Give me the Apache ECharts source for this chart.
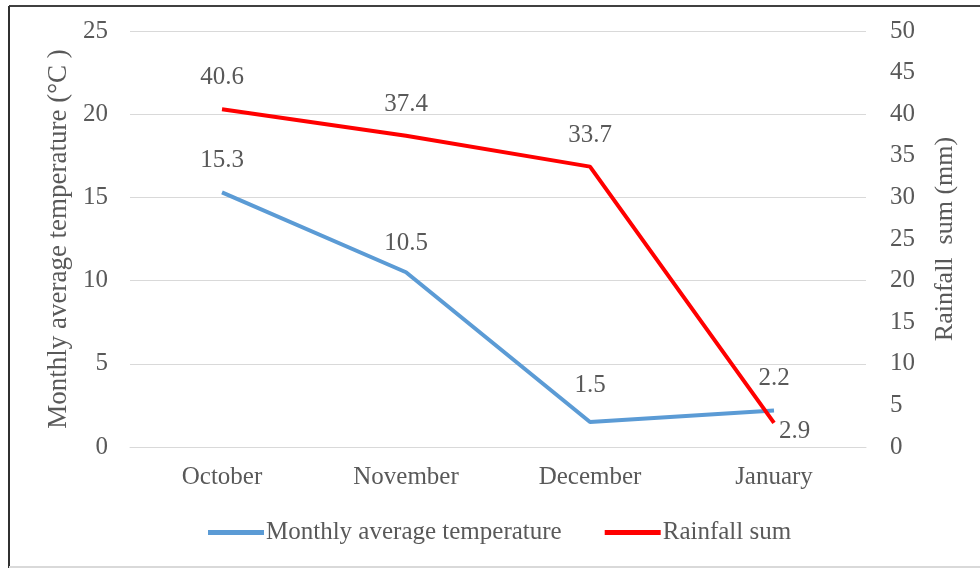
<!DOCTYPE html>
<html>
<head>
<meta charset="utf-8">
<script src="https://cdn.jsdelivr.net/npm/echarts@6/dist/echarts.min.js"></script>
<style>html,body{margin:0;padding:0;background:#fff;}#c{width:980px;height:569px;}</style>
</head>
<body>
<div id="c"></div>
<script>
var categories = ['October', 'November', 'December', 'January'];
var temperature = [15.3, 10.5, 1.5, 2.2];
var rainfall = [40.6, 37.4, 33.7, 2.9];
var leftTicks = [0, 5, 10, 15, 20, 25];
var rightTicks = [0, 5, 10, 15, 20, 25, 30, 35, 40, 45, 50];

var FONT = 'Liberation Serif';
var TXT = '#595959';
var FS = 25;

var chart = echarts.init(document.getElementById('c'));

function lbl(extra) {
  return Object.assign({show: true, position: 'top', distance: 19, color: TXT, fontFamily: FONT, fontSize: FS}, extra || {});
}

var tempData = temperature.map(function (v, i) {
  var d = {value: v};
  if (i === 1) d.label = lbl({distance: 16});
  if (i === 2) d.label = lbl({distance: 24});
  return d;
});
var rainData = rainfall.map(function (v, i) {
  var d = {value: v};
  if (i === 3) d.label = lbl({position: 'right', distance: 5, offset: [0, 9]});
  return d;
});

chart.setOption({
  animation: false,
  backgroundColor: '#fff',
  grid: {left: 130, right: 114, top: 31, bottom: 122, containLabel: false},
  legend: {
    left: 203, top: 515,
    itemWidth: 56, itemHeight: 5, itemGap: 43,
    icon: 'rect',
    textStyle: {color: TXT, fontFamily: FONT, fontSize: FS, padding: [0, 0, 0, -3]},
    data: ['Monthly average temperature', 'Rainfall sum']
  },
  xAxis: {
    type: 'category',
    data: categories,
    boundaryGap: true,
    axisLine: {show: true, lineStyle: {color: '#d9d9d9', width: 1}},
    axisTick: {show: false},
    axisLabel: {color: TXT, fontFamily: FONT, fontSize: FS, margin: 18}
  },
  yAxis: [{
    type: 'value', min: 0, max: 25, interval: 5,
    name: 'Monthly average temperature (\u00B0C )',
    nameLocation: 'middle', nameGap: 55,
    nameTextStyle: {color: TXT, fontFamily: FONT, fontSize: 27},
    axisLine: {show: false}, axisTick: {show: false},
    axisLabel: {color: TXT, fontFamily: FONT, fontSize: FS, margin: 22},
    splitLine: {lineStyle: {color: '#d9d9d9', width: 1}}
  }, {
    type: 'value', min: 0, max: 50, interval: 5,
    name: 'Rainfall  sum (mm)',
    nameLocation: 'middle', nameGap: 66,
    nameTextStyle: {color: TXT, fontFamily: FONT, fontSize: 26},
    axisLine: {show: false}, axisTick: {show: false},
    axisLabel: {color: TXT, fontFamily: FONT, fontSize: FS, margin: 24},
    splitLine: {show: false}
  }],
  series: [{
    name: 'Monthly average temperature',
    type: 'line', yAxisIndex: 0,
    data: tempData,
    symbol: 'circle', symbolSize: 0.1, showSymbol: true,
    lineStyle: {color: '#5B9BD5', width: 4},
    itemStyle: {color: '#5B9BD5'},
    label: lbl(),
    z: 2
  }, {
    name: 'Rainfall sum',
    type: 'line', yAxisIndex: 1,
    data: rainData,
    symbol: 'circle', symbolSize: 0.1, showSymbol: true,
    lineStyle: {color: '#FF0000', width: 4},
    itemStyle: {color: '#FF0000'},
    label: lbl(),
    z: 3
  }],
  graphic: [
    {type: 'line', shape: {x1: 9, y1: 6, x2: 980, y2: 6}, style: {stroke: '#404040', lineWidth: 2}},
    {type: 'line', shape: {x1: 9, y1: 6, x2: 9, y2: 568}, style: {stroke: '#303030', lineWidth: 2}},
    {type: 'line', shape: {x1: 9, y1: 567, x2: 980, y2: 567}, style: {stroke: '#d9d9d9', lineWidth: 2}}
  ]
});
</script>
</body>
</html>
